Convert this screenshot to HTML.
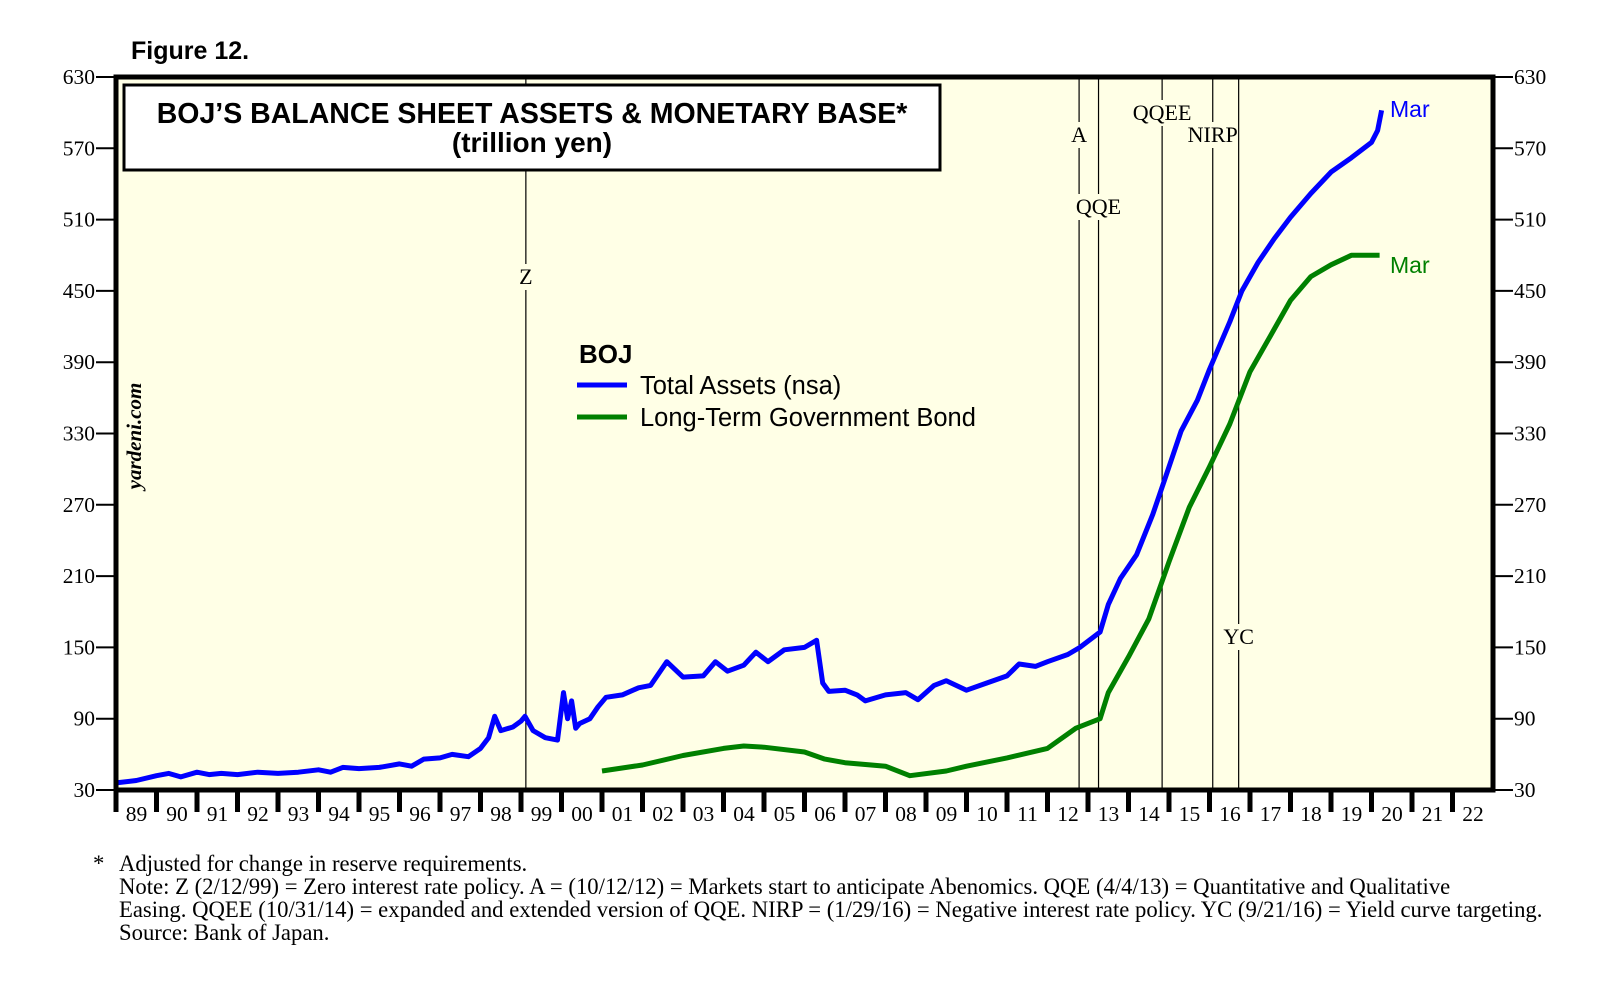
<!DOCTYPE html>
<html><head><meta charset="utf-8"><style>
body{margin:0;background:#fff;}
svg{display:block;font-family:"Liberation Serif",serif;}
.sans{font-family:"Liberation Sans",sans-serif;}
</style></head><body>
<svg id="chart" width="1612" height="1004" xmlns="http://www.w3.org/2000/svg">
<text x="131" y="59" class="sans" font-size="25" font-weight="bold">Figure 12.</text>
<rect x="116" y="77" width="1377" height="713" fill="#ffffe6"/>
<g id="events"></g>
<g id="axes"></g>
<g id="series"></g>
<rect x="116" y="77" width="1377" height="713" fill="none" stroke="#000" stroke-width="5"/>
<rect x="124" y="85" width="816" height="85" fill="#fff" stroke="#000" stroke-width="3"/>
<text x="532" y="123" text-anchor="middle" class="sans" font-size="28.5" font-weight="bold">BOJ’S BALANCE SHEET ASSETS &amp; MONETARY BASE*</text>
<text x="532" y="152" text-anchor="middle" class="sans" font-size="28" font-weight="bold">(trillion yen)</text>
<text transform="translate(141,436) rotate(-90)" text-anchor="middle" font-size="21" font-style="italic" font-weight="bold">yardeni.com</text>
<text x="579" y="363" class="sans" font-size="26" font-weight="bold">BOJ</text>
<line x1="577" y1="385" x2="627" y2="385" stroke="#0000ff" stroke-width="5"/>
<text x="640" y="394" class="sans" font-size="25.5">Total Assets (nsa)</text>
<line x1="577" y1="417" x2="627" y2="417" stroke="#008000" stroke-width="5"/>
<text x="640" y="426" class="sans" font-size="25.5">Long-Term Government Bond</text>
<text x="1390" y="117" class="sans" font-size="23" fill="#0000ff">Mar</text>
<text x="1390" y="273" class="sans" font-size="23" fill="#008000">Mar</text>
<g font-size="22.7">
<text x="93" y="871">*</text>
<text x="119" y="871">Adjusted for change in reserve requirements.</text>
<text x="119" y="894">Note: Z (2/12/99) = Zero interest rate policy. A = (10/12/12) = Markets start to anticipate Abenomics. QQE (4/4/13) = Quantitative and Qualitative</text>
<text x="119" y="917">Easing. QQEE (10/31/14) = expanded and extended version of QQE. NIRP = (1/29/16) = Negative interest rate policy. YC (9/21/16) = Yield curve targeting.</text>
<text x="119" y="940">Source: Bank of Japan.</text>
</g>
</svg>
<script>
const yTicks=[30,90,150,210,270,330,390,450,510,570,630];
const years=['89','90','91','92','93','94','95','96','97','98','99','00','01','02','03','04','05','06','07','08','09','10','11','12','13','14','15','16','17','18','19','20','21','22'];
const totalT=[1989,1989.5,1990,1990.3,1990.6,1991,1991.3,1991.6,1992,1992.5,1993,1993.5,1994,1994.3,1994.6,1995,1995.5,1996,1996.3,1996.6,1997,1997.3,1997.7,1998,1998.2,1998.35,1998.5,1998.8,1999,1999.1,1999.3,1999.6,1999.9,2000.05,2000.15,2000.25,2000.35,2000.45,2000.7,2000.9,2001.1,2001.5,2001.9,2002.2,2002.6,2003,2003.5,2003.8,2004.1,2004.5,2004.8,2005.1,2005.5,2006,2006.3,2006.45,2006.6,2007,2007.3,2007.5,2008,2008.5,2008.8,2009.2,2009.5,2010,2010.5,2011,2011.3,2011.7,2012,2012.5,2012.8,2013.3,2013.5,2013.8,2014.2,2014.6,2014.9,2015.3,2015.7,2016,2016.5,2016.8,2017.2,2017.6,2018,2018.5,2019,2019.5,2020,2020.15,2020.25];
const totalV=[36,38,42,44,41,45,43,44,43,45,44,45,47,45,49,48,49,52,50,56,57,60,58,65,74,92,80,83,88,92,80,74,72,112,90,105,82,86,90,100,108,110,116,118,138,125,126,138,130,135,146,138,148,150,156,120,113,114,110,105,110,112,106,118,122,114,120,126,136,134,138,144,150,163,186,208,228,262,292,332,358,384,424,450,474,494,512,532,550,562,575,585,602];
const bondT=[2001,2002,2003,2004,2004.5,2005,2006,2006.5,2007,2008,2008.6,2009.5,2010,2011,2012,2012.7,2013.3,2013.5,2014,2014.5,2015,2015.5,2016,2016.5,2017,2017.5,2018,2018.5,2019,2019.5,2020.2];
const bondV=[46,51,59,65,67,66,62,56,53,50,42,46,50,57,65,82,90,112,142,174,222,268,302,338,382,412,442,462,472,480,480];
const events=[['Z',1999.12,284],['A',2012.78,142],['QQE',2013.26,214],['QQEE',2014.83,120],['NIRP',2016.08,142],['YC',2016.72,644]];
const X=t=>116+(t-1989)*1377/34;
const Y=v=>790-(v-30)*713/600;
const NS='http://www.w3.org/2000/svg';
function mk(tag,attrs,parent){const e=document.createElementNS(NS,tag);for(const k in attrs)e.setAttribute(k,attrs[k]);parent.appendChild(e);return e;}
const ax=document.getElementById('axes');
yTicks.forEach(v=>{
 const y=Y(v);
 let l=mk('line',{x1:96,x2:116,y1:y,y2:y,stroke:'#000','stroke-width':2},ax);
 
 
 let r=mk('line',{x1:1493,x2:1513,y1:y,y2:y,stroke:'#000','stroke-width':2},ax);
 
 
 let t=mk('text',{x:95,y:y+7,'text-anchor':'end','font-size':21.5},ax);t.textContent=v;
 
 
 let t2=mk('text',{x:1514,y:y+7,'font-size':21.5},ax);t2.textContent=v;
 
 
});
years.forEach((yr,i)=>{
 const x=X(1989+i);
 let l=mk('line',{x1:x,x2:x,y1:790,y2:812,stroke:'#000','stroke-width':5},ax);
 
 
 let t=mk('text',{x:x+20.5,y:821,'text-anchor':'middle','font-size':21.5},ax);t.textContent=yr;
 
 
});
const ev=document.getElementById('events');
events.forEach(([lab,t,ty])=>{
 const x=X(t);
 let l=mk('line',{x1:x,x2:x,y1:77,y2:790,stroke:'#000','stroke-width':1.2},ev);
 
 
 let w=lab.length*15+6;
 mk('rect',{x:x-w/2,y:ty-20,width:w,height:26,fill:'#ffffe6'},ev);
 let tx=mk('text',{x:x,y:ty,'text-anchor':'middle','font-size':22},ev);tx.textContent=lab;
 
 
});
const se=document.getElementById('series');
function line(T,V,col,name){
 const d=T.map((t,i)=>(i?'L':'M')+X(t).toFixed(1)+','+Y(V[i]).toFixed(1)).join(' ');
 const p=mk('path',{d:d,fill:'none',stroke:col,'stroke-width':5,'stroke-linejoin':'round'},se);
 
 
}
line(bondT,bondV,'#008000','lt-govt-bond-line');
line(totalT,totalV,'#0000ff','total-assets-line');
</script>
</body></html>
